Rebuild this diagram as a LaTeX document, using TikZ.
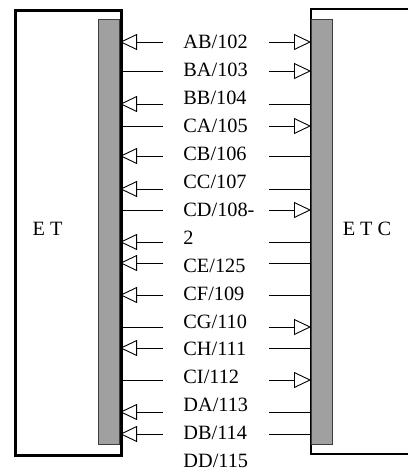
\documentclass[tikz,border=0pt]{standalone}
\usepackage{fontspec}
\setmainfont{Liberation Serif}
\usetikzlibrary{arrows.meta, positioning}
\definecolor{cbar}{HTML}{A0A0A0}
\definecolor{cedge}{HTML}{3C3C3C}
\tikzset{
  every picture/.style={x=1pt, y=-1pt, line width=0.9pt},
  unit/.style={draw=black, line width=2.8pt},
  bar/.style={draw=cedge, fill=cbar, line width=0.6pt, inner sep=0pt, minimum width=21pt, minimum height=425pt},
  wire/.style={draw=black, line width=0.9pt},
  arrowin/.style={wire, -{Triangle[open, length=17pt, width=16pt]}},
  lbl/.style={font=\fontsize{20.3}{23}\selectfont, inner sep=0pt, text width=75pt, align=left, text height=13pt, text depth=4pt},
  unitname/.style={font=\fontsize{20.3}{23}\selectfont, inner sep=0pt},
}
\begin{document}
\begin{tikzpicture}
  \useasboundingbox (0,0) rectangle (408,473);
  % the two units
  \node[unit, minimum width=106pt, minimum height=445pt, anchor=north west] (et) at (14,9) {};
  \draw[unit] (408,9) -| (311,454) -- (408,454);
  \node[bar, anchor=north east] (lbar) at (120,19) {};
  \node[bar, anchor=north west] (rbar) at (311,19) {};
  \node[unitname] (etname) at (47.5,229) {E T};
  \node[unitname] (etcname) at (367,229) {E T C};
  % signal names
  \node[lbl, anchor=base west] (ab) at (183,48.5) {AB/102};
  \node[lbl, below=10.05pt of ab] (ba) {BA/103};
  \node[lbl, below=10.05pt of ba] (bb) {BB/104};
  \node[lbl, below=10.05pt of bb] (ca) {CA/105};
  \node[lbl, below=10.05pt of ca] (cb) {CB/106};
  \node[lbl, below=10.05pt of cb] (cc) {CC/107};
  \node[lbl, below=10.05pt of cc] (cd) {CD/108-};
  \node[lbl, below=10.05pt of cd] (cdb) {2};
  \node[lbl, below=10.05pt of cdb] (ce) {CE/125};
  \node[lbl, below=10.05pt of ce] (cf) {CF/109};
  \node[lbl, below=10.05pt of cf] (cg) {CG/110};
  \node[lbl, below=10.05pt of cg] (ch) {CH/111};
  \node[lbl, below=10.05pt of ch] (ci) {CI/112};
  \node[lbl, below=10.05pt of ci] (da) {DA/113};
  \node[lbl, below=10.05pt of da] (db) {DB/114};
  \node[lbl, below=10.05pt of db] (dd) {DD/115};
  % signal lines, arrow = towards the unit
  \foreach \y/\ls/\rs [count=\i] in {42/arrowin/arrowin, 71/wire/arrowin, 104/arrowin/wire,
      126/wire/arrowin, 156/arrowin/wire, 189/arrowin/wire, 210/wire/arrowin,
      242/arrowin/wire, 263/arrowin/wire, 295/arrowin/wire, 327/wire/arrowin,
      348/arrowin/wire, 380/wire/arrowin, 412/arrowin/wire, 434/arrowin/wire} {
    \coordinate (l\i) at (163,\y);
    \coordinate (r\i) at (269,\y);
    \draw[\ls] (l\i) -- (lbar.east |- l\i);
    \draw[\rs] (r\i) -- (rbar.west |- r\i);
  }
\end{tikzpicture}
\end{document}
